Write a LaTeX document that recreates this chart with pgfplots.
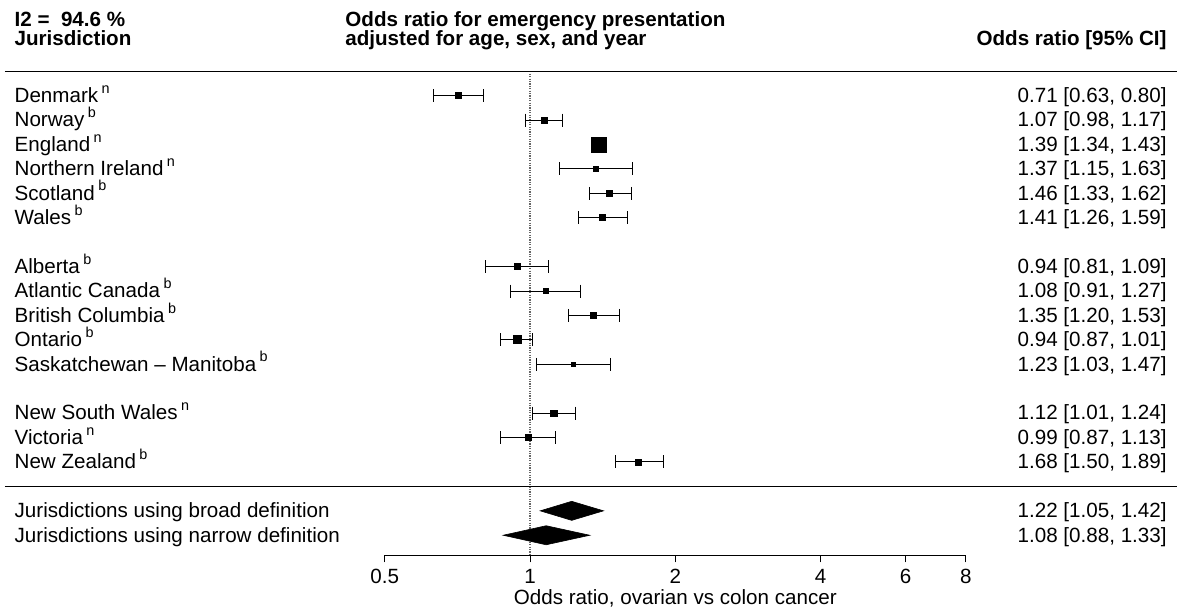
\documentclass[border=0pt]{standalone}
\usepackage{pgfplots}
\pgfplotsset{compat=1.18}
\usepackage{fontspec}
\setmainfont{Liberation Sans}
\newcommand\supx[1]{\,\raisebox{0.85ex}{\fontsize{7.2}{8}\selectfont #1}}
\newcommand\lab[2]{\node[anchor=base west, inner sep=0pt, yshift=-3.4pt] at (axis cs:0.0854,#1) {#2};}
\newcommand\val[2]{\node[anchor=base east, inner sep=0pt, yshift=-3.4pt] at (axis cs:20.88,#1) {#2};}
\newcommand\fp[5]{%
  \addplot[black, line width=0.5pt, mark=|, mark size=3.25pt] coordinates {(#3,#1) (#4,#1)};
  \addplot[only marks, mark=square*, mark size=#5pt, mark options={fill=black, draw=none}] coordinates {(#2,#1)};
}
\newcommand\dia[4]{%
  \addplot[fill=black, draw=black, line width=0.3pt] coordinates {(#3,#1) (#2,#1-0.39) (#4,#1) (#2,#1+0.39)} -- cycle;
}
\begin{document}
\begin{tikzpicture}[font=\fontsize{10.3}{12}\selectfont]
\begin{axis}[
  at={(0,0)}, anchor=south west,
  scale only axis, width=589pt, height=305pt,
  xmode=log, log basis x=2,
  xmin=0.07979, xmax=22.006,
  ymin=-3.919, ymax=21.061, y dir=reverse,
  hide axis, clip=false,
]
\path (rel axis cs:0,0) -- (rel axis cs:1,1);
% reference line
\addplot[black!60, line width=0.6pt, dash pattern=on 0.6pt off 0.6pt] coordinates {(1,-0.9) (1,18.82)};
% separators
\addplot[black, line width=0.6pt] coordinates {(0.0817,-1) (21.9,-1)};
\addplot[black, line width=0.6pt] coordinates {(0.0817,16) (21.9,16)};
% headers
\node[anchor=base west, inner sep=0pt] at (axis cs:0.0854,-2.85) {\bfseries I2 =\ \ 94.6 \%};
\node[anchor=base west, inner sep=0pt] at (axis cs:0.0854,-2.05) {\bfseries Jurisdiction};
\node[anchor=base west, inner sep=0pt] at (axis cs:0.4137,-2.85) {\bfseries Odds ratio for emergency presentation};
\node[anchor=base west, inner sep=0pt] at (axis cs:0.4137,-2.05) {\bfseries adjusted for age, sex, and year};
\node[anchor=base east, inner sep=0pt] at (axis cs:20.88,-2.05) {\bfseries Odds ratio [95\% CI]};
% studies: row, OR, lo, hi, mark size
\fp{0}{0.71}{0.63}{0.80}{1.5}
\fp{1}{1.07}{0.98}{1.17}{1.6}
\fp{2}{1.39}{1.34}{1.43}{3.75}
\fp{3}{1.37}{1.15}{1.63}{1.25}
\fp{4}{1.46}{1.33}{1.62}{1.7}
\fp{5}{1.41}{1.26}{1.59}{1.45}
\fp{7}{0.94}{0.81}{1.09}{1.45}
\fp{8}{1.08}{0.91}{1.27}{1.2}
\fp{9}{1.35}{1.20}{1.53}{1.5}
\fp{10}{0.94}{0.87}{1.01}{2.0}
\fp{11}{1.23}{1.03}{1.47}{1.2}
\fp{13}{1.12}{1.01}{1.24}{1.6}
\fp{14}{0.99}{0.87}{1.13}{1.5}
\fp{15}{1.68}{1.50}{1.89}{1.5}
\dia{17}{1.22}{1.05}{1.42}
\dia{18}{1.08}{0.88}{1.33}
% labels
\lab{0}{Denmark\supx{n}}
\lab{1}{Norway\supx{b}}
\lab{2}{England\supx{n}}
\lab{3}{Northern Ireland\supx{n}}
\lab{4}{Scotland\supx{b}}
\lab{5}{Wales\supx{b}}
\lab{7}{Alberta\supx{b}}
\lab{8}{Atlantic Canada\supx{b}}
\lab{9}{British Columbia\supx{b}}
\lab{10}{Ontario\supx{b}}
\lab{11}{Saskatchewan \textendash\ Manitoba\supx{b}}
\lab{13}{New South Wales\supx{n}}
\lab{14}{Victoria\supx{n}}
\lab{15}{New Zealand\supx{b}}
\lab{17}{Jurisdictions using broad definition}
\lab{18}{Jurisdictions using narrow definition}
\val{0}{0.71 [0.63, 0.80]}
\val{1}{1.07 [0.98, 1.17]}
\val{2}{1.39 [1.34, 1.43]}
\val{3}{1.37 [1.15, 1.63]}
\val{4}{1.46 [1.33, 1.62]}
\val{5}{1.41 [1.26, 1.59]}
\val{7}{0.94 [0.81, 1.09]}
\val{8}{1.08 [0.91, 1.27]}
\val{9}{1.35 [1.20, 1.53]}
\val{10}{0.94 [0.87, 1.01]}
\val{11}{1.23 [1.03, 1.47]}
\val{13}{1.12 [1.01, 1.24]}
\val{14}{0.99 [0.87, 1.13]}
\val{15}{1.68 [1.50, 1.89]}
\val{17}{1.22 [1.05, 1.42]}
\val{18}{1.08 [0.88, 1.33]}
\end{axis}
\begin{axis}[
  at={(192.35pt,27.35pt)}, anchor=south west,
  scale only axis, width=290.6pt, height=10pt,
  xmode=log, log basis x=2, xmin=0.5, xmax=8,
  ymin=0, ymax=1,
  axis x line*=bottom, axis y line=none,
  xtick={0.5,1,2,4,6,8}, xticklabels={0.5,1,2,4,6,8},
  xminorticks=false,
  tick align=outside, major tick length=3.5pt,
  xtick style={black, line width=0.5pt},
  axis line style={black, line width=0.5pt},
  xlabel={Odds ratio, ovarian vs colon cancer},
  xlabel style={at={(axis description cs:0.5,0)}, anchor=base, yshift=-24.6pt, inner sep=0pt},
  xticklabel style={anchor=north, inner sep=0pt, yshift=-3.2pt},
]
\end{axis}
\end{tikzpicture}
\end{document}
